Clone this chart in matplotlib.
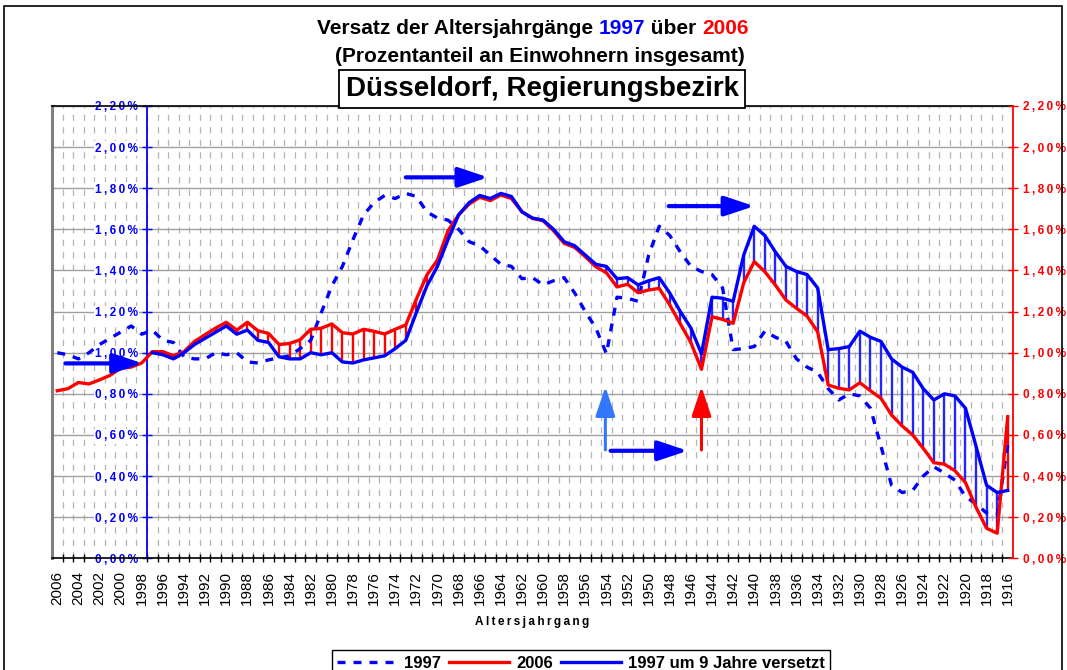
import matplotlib
matplotlib.use('Agg')
import matplotlib.pyplot as plt
import numpy as np
from matplotlib.patches import Rectangle

plt.rcParams['font.family'] = ['Liberation Sans', 'DejaVu Sans']

# Altersjahrgaenge 2006 ... 1916
jahrgang = list(range(2006, 1915, -1))

# Prozentanteil 1997 (nach Alter, d.h. auf gleicher Position wie 2006)
anteil_1997 = [1.00, 0.99, 0.97, 1.00, 1.04, 1.07, 1.10, 1.13, 1.09, 1.11,
               1.06, 1.05, 0.98, 0.97, 0.97, 1.00, 0.99, 1.00, 0.955, 0.95,
               0.965, 0.975, 0.985, 1.02, 1.06, 1.195, 1.325, 1.42, 1.55, 1.67,
               1.73, 1.765, 1.75, 1.775, 1.76, 1.685, 1.655, 1.645, 1.60, 1.54,
               1.52, 1.475, 1.43, 1.42, 1.36, 1.365, 1.33, 1.35, 1.365, 1.29,
               1.20, 1.12, 0.995, 1.27, 1.265, 1.25, 1.475, 1.615, 1.57, 1.49,
               1.42, 1.395, 1.38, 1.315, 1.015, 1.02, 1.03, 1.105, 1.075, 1.055,
               0.97, 0.93, 0.905, 0.825, 0.77, 0.80, 0.79, 0.73, 0.545, 0.355,
               0.32, 0.33, 0.40, 0.445, 0.415, 0.38, 0.30, 0.265, 0.22, 0.21,
               0.55]

# Prozentanteil 2006
anteil_2006 = [0.815, 0.825, 0.855, 0.848, 0.868, 0.89, 0.925, 0.93, 0.95, 1.005,
               1.005, 0.985, 1.005, 1.055, 1.088, 1.12, 1.148, 1.11, 1.148, 1.107,
               1.094, 1.04, 1.045, 1.063, 1.114, 1.119, 1.14, 1.097, 1.091, 1.114,
               1.104, 1.091, 1.114, 1.135, 1.26, 1.378, 1.451, 1.593, 1.67, 1.723,
               1.756, 1.74, 1.767, 1.75, 1.686, 1.653, 1.642, 1.593, 1.532, 1.512,
               1.467, 1.418, 1.389, 1.32, 1.333, 1.292, 1.305, 1.313, 1.232, 1.14,
               1.049, 0.919, 1.175, 1.162, 1.143, 1.34, 1.443, 1.394, 1.329, 1.256,
               1.216, 1.178, 1.102, 0.843, 0.827, 0.819, 0.854, 0.815, 0.778, 0.697,
               0.644, 0.60, 0.535, 0.465, 0.458, 0.426, 0.368, 0.248, 0.146, 0.122,
               0.689]

versatz = 9

BLAU = '#0000FF'
ROT = '#FF0000'
W, H = 1067, 670

fig = plt.figure(figsize=(W / 100, H / 100), dpi=100)
ax = fig.add_axes([52 / W, 1 - 558.3 / H, (1013 - 52) / W, (558.3 - 106) / H])

x = np.arange(len(jahrgang))
xv = x[versatz:]
yv = np.array(anteil_1997[:len(x) - versatz])
y06 = np.array(anteil_2006)[versatz:]

# Schraffur zwischen 2006 und versetztem 1997
farben = [ROT if b > a else '#2424FF' for a, b in zip(yv, y06)]
ax.vlines(xv, np.minimum(yv, y06), np.maximum(yv, y06), colors=farben, lw=1.7, zorder=2)

l1, = ax.plot(x, anteil_1997, color=BLAU, lw=2.4, dashes=(2.4, 2.4), zorder=3)
l2, = ax.plot(x, anteil_2006, color=ROT, lw=2.4, zorder=4, solid_joinstyle='round')
l3, = ax.plot(xv, yv, color=BLAU, lw=2.4, zorder=5, solid_joinstyle='round')

ax.set_xlim(-0.5, len(x) - 0.5)
ax.set_ylim(0, 2.2)

# Gitter
yt = np.round(np.arange(0, 2.21, 0.2), 2)
ax.set_yticks(yt)
ax.yaxis.grid(True, color='#A0A0A0', lw=1.0)
ax.set_xticks(np.arange(0.5, len(x) - 1, 1), minor=True)
ax.xaxis.grid(True, which='minor', color='#B4B4B4', lw=0.9, linestyle=(0, (5, 5)))
ax.set_axisbelow(True)


def sperren(s):
    return '\u2009'.join(s)


def prozent(v):
    return sperren(('%.2f' % v).replace('.', ',') + '%')


# linke (blaue) Achse bei 1998/1997
ax.spines['left'].set_position(('data', versatz - 0.5))
ax.spines['left'].set_color(BLAU)
ax.spines['left'].set_linewidth(1.3)
ax.spines['right'].set_visible(False)
ax.spines['top'].set_color('black')
ax.spines['top'].set_linewidth(1.2)
ax.spines['bottom'].set_linewidth(1.2)
ax.set_yticklabels([prozent(v) for v in yt])
ax.tick_params(axis='y', which='major', colors=BLAU, direction='inout', length=7, width=1,
               labelsize=8.5, pad=3)
for t in ax.get_yticklabels():
    t.set_fontweight('bold')
    t.set_bbox(dict(fc='white', ec='none', pad=1))
ax.axvline(-0.5, color='#7F7F7F', lw=2.2, clip_on=False, zorder=1)

# x-Achse
ax.set_xticks(x[::2])
ax.set_xticklabels([str(j) for j in jahrgang[::2]], rotation=90, fontsize=11)
ax.tick_params(axis='x', which='major', length=0, pad=9)
ax.tick_params(axis='x', which='minor', direction='inout', length=6, width=1, color='black')
ax.set_xlabel(sperren('Altersjahrgang'), fontsize=8.5, fontweight='bold', labelpad=8)

# rechte (rote) Achse
ax2 = ax.twinx()
ax2.set_ylim(0, 2.2)
ax2.set_yticks(yt)
ax2.set_yticklabels([prozent(v) for v in yt])
for s in ['left', 'top', 'bottom']:
    ax2.spines[s].set_visible(False)
ax2.spines['right'].set_color(ROT)
ax2.spines['right'].set_linewidth(1.3)
ax2.tick_params(axis='y', colors=ROT, direction='inout', length=7, width=1, labelsize=8.5, pad=4)
for t in ax2.get_yticklabels():
    t.set_fontweight('bold')

# Pfeile
pfeil = dict(arrowstyle='-|>,head_length=1.2,head_width=0.4', color=BLAU, lw=3,
             mutation_scale=15, shrinkA=0, shrinkB=0)
for (x0, x1, y) in [(0.76, 8.1, 0.948), (33.0, 40.8, 1.853), (57.9, 66.0, 1.713), (52.4, 59.7, 0.523)]:
    ax.annotate('', xy=(x1, y), xytext=(x0, y), arrowprops=pfeil, zorder=6)
ax.annotate('', xy=(51.9, 0.835), xytext=(51.9, 0.527),
            arrowprops=dict(pfeil, color='#3377FF', lw=2.2), zorder=6)
ax.annotate('', xy=(61.0, 0.835), xytext=(61.0, 0.527),
            arrowprops=dict(pfeil, color=ROT, lw=2.2), zorder=6)


# Titel mit farbigen Teilen
def titelzeile(teile, xc, yc, size):
    r = fig.canvas.get_renderer()
    voll = ''.join(s for s, c in teile)

    def breite(s):
        t = fig.text(0, 0, s, fontsize=size, fontweight='bold')
        b = t.get_window_extent(r).width
        t.remove()
        return b

    gesamt = breite(voll)
    x0 = xc - gesamt / 2
    bisher = ''
    for s, c in teile:
        bisher += s
        xs = x0 + breite(bisher) - breite(s)
        fig.text(xs / W, 1 - yc / H, s, color=c, fontsize=size, fontweight='bold',
                 ha='left', va='center')


titelzeile([('Versatz der Altersjahrgänge ', 'black'), ('1997', BLAU), (' über ', 'black'),
            ('2006', ROT)], 533, 29, 15)
titelzeile([('(Prozentanteil an Einwohnern insgesamt)', 'black')], 540, 57, 15)
fig.text(542 / W, 1 - 89 / H, 'Düsseldorf, Regierungsbezirk', fontsize=20, fontweight='bold',
         ha='center', va='center',
         bbox=dict(boxstyle='square,pad=0.22', fc='white', ec='black', lw=1.3))

# Legende
fig.legend([l1, l2, l3], ['1997', '2006', '1997 um 9 Jahre versetzt'], loc='upper center',
           bbox_to_anchor=(581 / W, 1 - 642 / H), ncol=3, frameon=True, fancybox=False,
           edgecolor='black', framealpha=1, prop=dict(weight='bold', size=12),
           handlelength=3.6, columnspacing=0.5, handletextpad=0.4, borderpad=0.35)

# Rahmen um die Grafik
fig.patches.append(Rectangle((4 / W, -0.05), (1062 - 4) / W, 1.05 - 6 / H, transform=fig.transFigure,
                             fill=False, ec='black', lw=1.2))

fig.savefig('out.png', dpi=100)
